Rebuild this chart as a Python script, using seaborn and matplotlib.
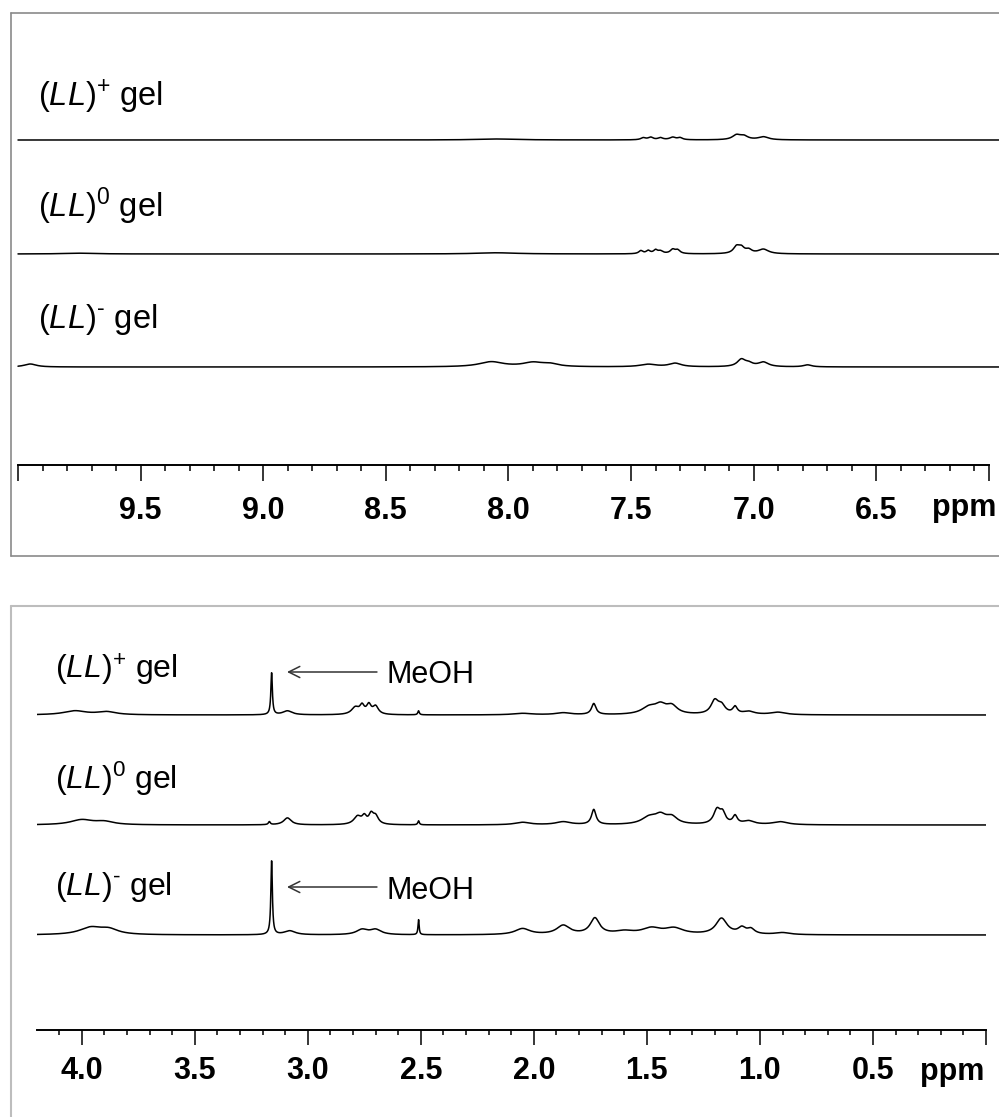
import numpy as np
import pandas as pd
import matplotlib
matplotlib.use("Agg")
import matplotlib.pyplot as plt
import seaborn as sns
from matplotlib.ticker import FixedLocator, FixedFormatter
from matplotlib.lines import Line2D

# ---------------- data ----------------
series_labels = [r"($\mathit{LL}$)$^{+}$ gel",
                 r"($\mathit{LL}$)$^{0}$ gel",
                 r"($\mathit{LL}$)$^{\text{-}}$ gel"]

# aromatic / amide region (10.0 - 6.0 ppm): peak centres (ppm), heights, half-widths (ppm)
aro_plus_centers = [8.05, 7.45, 7.42, 7.38, 7.33, 7.30, 7.07, 7.04, 6.96]
aro_plus_heights = [1.0, 2.0, 2.5, 2.0, 2.5, 2.0, 4.5, 3.5, 3.0]
aro_plus_widths = [0.10, 0.012, 0.012, 0.012, 0.015, 0.012, 0.02, 0.02, 0.025]

aro_zero_centers = [9.75, 8.05, 7.46, 7.43, 7.40, 7.38, 7.33, 7.31, 7.07, 7.05, 7.02, 6.96]
aro_zero_heights = [0.8, 1.2, 3.0, 3.0, 3.5, 2.5, 4.0, 3.5, 6.5, 5.5, 3.5, 4.5]
aro_zero_widths = [0.08, 0.10, 0.01, 0.01, 0.01, 0.012, 0.012, 0.012, 0.015, 0.015, 0.015, 0.025]

aro_minus_centers = [9.95, 8.07, 7.90, 7.83, 7.43, 7.32, 7.05, 7.02, 6.96, 6.78]
aro_minus_heights = [3.0, 5.0, 4.0, 2.5, 2.5, 3.5, 7.0, 3.0, 4.5, 2.0]
aro_minus_widths = [0.03, 0.06, 0.05, 0.04, 0.04, 0.03, 0.02, 0.02, 0.025, 0.02]

# aliphatic region (4.2 - 0.0 ppm)
ali_plus_centers = [4.03, 3.89, 3.16, 3.09, 2.79, 2.76, 2.73, 2.70, 2.51, 2.05, 1.87, 1.735,
                    1.49, 1.44, 1.39, 1.20, 1.17, 1.11, 1.05, 0.92]
ali_plus_heights = [4, 3, 42, 4, 7, 8, 9, 8, 4, 1.5, 2, 11, 7, 8, 8, 13, 8, 7, 3, 2.5]
ali_plus_widths = [0.06, 0.05, 0.004, 0.025, 0.02, 0.012, 0.012, 0.015, 0.004, 0.05, 0.04, 0.012,
                   0.04, 0.03, 0.03, 0.02, 0.02, 0.012, 0.03, 0.04]

ali_zero_centers = [4.00, 3.90, 3.17, 3.09, 2.78, 2.75, 2.72, 2.70, 2.51, 2.05, 1.87, 1.735,
                    1.49, 1.44, 1.39, 1.19, 1.165, 1.11, 1.05, 0.91]
ali_zero_heights = [5, 3, 3, 7, 8, 7, 9, 8, 4, 2.5, 3, 15, 7, 8, 7, 14, 10, 8, 3.5, 3]
ali_zero_widths = [0.06, 0.05, 0.005, 0.02, 0.02, 0.012, 0.012, 0.015, 0.004, 0.04, 0.04, 0.012,
                   0.04, 0.03, 0.03, 0.018, 0.015, 0.012, 0.03, 0.04]

ali_minus_centers = [3.96, 3.88, 3.16, 3.08, 2.76, 2.70, 2.51, 2.05, 1.87, 1.73, 1.60,
                     1.48, 1.38, 1.17, 1.08, 1.04, 0.90]
ali_minus_heights = [7, 5, 74, 4, 5, 5, 15, 6, 9, 16, 3, 6, 6, 16, 6, 5, 2]
ali_minus_widths = [0.06, 0.05, 0.004, 0.03, 0.03, 0.03, 0.003, 0.04, 0.035, 0.025, 0.05,
                    0.05, 0.05, 0.03, 0.02, 0.02, 0.04]

top_major = [10.0, 9.5, 9.0, 8.5, 8.0, 7.5, 7.0, 6.5, 6.04]
top_major_labels = ["", "9.5", "9.0", "8.5", "8.0", "7.5", "7.0", "6.5", ""]
bot_major = [4.0, 3.5, 3.0, 2.5, 2.0, 1.5, 1.0, 0.5, 0.0]
bot_major_labels = ["4.0", "3.5", "3.0", "2.5", "2.0", "1.5", "1.0", "0.5", ""]

# ---------------- style ----------------
sns.set_theme(style="ticks")
plt.rcParams["font.family"] = ["Liberation Sans", "DejaVu Sans"]
plt.rcParams["mathtext.fontset"] = "custom"
plt.rcParams["mathtext.rm"] = "Liberation Sans"
plt.rcParams["mathtext.it"] = "Liberation Sans:italic"
plt.rcParams["mathtext.bf"] = "Liberation Sans:bold"
plt.rcParams["text.color"] = "black"
plt.rcParams["axes.labelcolor"] = "black"
plt.rcParams["xtick.color"] = "black"

W, H = 999, 1117
fig = plt.figure(figsize=(W / 100, H / 100), dpi=100)
fig.patch.set_facecolor("white")


def fx(px):
    return px / W


def fy(py):
    return 1 - py / H


def spectrum(ppm, centers, heights, widths):
    c = np.asarray(centers, float)[:, None]
    h = np.asarray(heights, float)[:, None]
    w = np.asarray(widths, float)[:, None]
    return (h * w ** 2 / ((ppm[None, :] - c) ** 2 + w ** 2)).sum(axis=0)


def build_frame(ppm, peak_sets, offsets):
    frames = []
    for label, (c, h, w), off in zip(series_labels, peak_sets, offsets):
        frames.append(pd.DataFrame({"ppm": ppm,
                                    "signal": spectrum(ppm, c, h, w) + off,
                                    "series": label}))
    return pd.concat(frames, ignore_index=True)


def setup_axis(ax, xlim, ylim, majors, major_labels, minors, maj_len, min_len, pad):
    ax.set_xlim(*xlim)
    ax.set_ylim(*ylim)
    ax.patch.set_alpha(0)
    for s in ["top", "left", "right"]:
        ax.spines[s].set_visible(False)
    ax.spines["bottom"].set_color("black")
    ax.spines["bottom"].set_linewidth(1.4)
    ax.set_yticks([])
    ax.xaxis.set_major_locator(FixedLocator(majors))
    ax.xaxis.set_major_formatter(FixedFormatter(major_labels))
    ax.xaxis.set_minor_locator(FixedLocator(minors))
    ax.tick_params(axis="x", which="major", bottom=True, direction="out", length=maj_len,
                   width=1.1, color="black", labelsize=22, labelcolor="black", pad=pad)
    ax.tick_params(axis="x", which="minor", bottom=True, direction="out", length=min_len,
                   width=1.1, color="black")
    for lab in ax.get_xticklabels():
        lab.set_fontweight("bold")
    ax.set_xlabel("")
    ax.set_ylabel("")


# ---------------- panel borders ----------------
top_box = "#8a8a8a"
bot_box = "#bdbdbd"
fig.add_artist(Line2D([fx(11), fx(999)], [fy(13), fy(13)], color=top_box, lw=1.2))
fig.add_artist(Line2D([fx(11), fx(11)], [fy(13), fy(556)], color=top_box, lw=1.2))
fig.add_artist(Line2D([fx(11), fx(999)], [fy(556), fy(556)], color=top_box, lw=1.2))
fig.add_artist(Line2D([fx(11), fx(999)], [fy(606), fy(606)], color=bot_box, lw=1.5))
fig.add_artist(Line2D([fx(11), fx(11)], [fy(606), fy(1117)], color=bot_box, lw=1.5))

# ---------------- top panel (10 - 6 ppm) ----------------
ax_top = fig.add_axes([fx(18), fy(465), (989 - 18) / W, (465 - 30) / H])
ppm_top = np.linspace(10.0, 6.0, 4000)
df_top = build_frame(ppm_top,
                     [(aro_plus_centers, aro_plus_heights, aro_plus_widths),
                      (aro_zero_centers, aro_zero_heights, aro_zero_widths),
                      (aro_minus_centers, aro_minus_heights, aro_minus_widths)],
                     [465 - 140, 465 - 254, 465 - 367])
sns.lineplot(data=df_top, x="ppm", y="signal", units="series", estimator=None,
             color="black", lw=1.1, sort=False, legend=False, ax=ax_top)
for ln in ax_top.lines:
    ln.set_clip_on(False)
top_minors = [round(6.1 + 0.1 * i, 2) for i in range(39)]
setup_axis(ax_top, (10.0, 6.04), (0, 435), top_major, top_major_labels, top_minors,
           11.5, 4.3, 10.5)
fig.text(fx(932), fy(516), "ppm", fontsize=22, fontweight="bold", ha="left", va="baseline")

for label, base in zip(series_labels, [106, 217, 328]):
    fig.text(fx(38), fy(base), label, fontsize=23.5, ha="left", va="baseline")

# ---------------- bottom panel (4.2 - 0 ppm) ----------------
ax_bot = fig.add_axes([fx(36.5), fy(1030), (986 - 36.5) / W, (1030 - 620) / H])
ppm_bot = np.linspace(4.2, 0.0, 6000)
df_bot = build_frame(ppm_bot,
                     [(ali_plus_centers, ali_plus_heights, ali_plus_widths),
                      (ali_zero_centers, ali_zero_heights, ali_zero_widths),
                      (ali_minus_centers, ali_minus_heights, ali_minus_widths)],
                     [1030 - 715, 1030 - 825, 1030 - 935])
sns.lineplot(data=df_bot, x="ppm", y="signal", units="series", estimator=None,
             color="black", lw=1.1, sort=False, legend=False, ax=ax_bot)
bot_minors = [round(0.1 + 0.1 * i, 2) for i in range(41)]
setup_axis(ax_bot, (4.2, 0.0), (0, 410), bot_major, bot_major_labels, bot_minors,
           10.8, 3.6, 8)
fig.text(fx(920), fy(1080), "ppm", fontsize=22, fontweight="bold", ha="left", va="baseline")

for label, base in zip(series_labels, [679, 789, 895]):
    fig.text(fx(55), fy(base), label, fontsize=23, ha="left", va="baseline")

for arrow_y, text_base in [(1030 - 672, 1030 - 683), (1030 - 887, 1030 - 899)]:
    ax_bot.annotate("", xy=(3.092, arrow_y), xytext=(2.694, arrow_y),
                    arrowprops=dict(arrowstyle="->", color="#333333", lw=1.1,
                                    shrinkA=0, shrinkB=0, mutation_scale=20),
                    annotation_clip=False)
    ax_bot.text(2.650, text_base, "MeOH", fontsize=22, ha="left", va="baseline",
                clip_on=False)

fig.savefig("out.png", dpi=100, facecolor="white")
